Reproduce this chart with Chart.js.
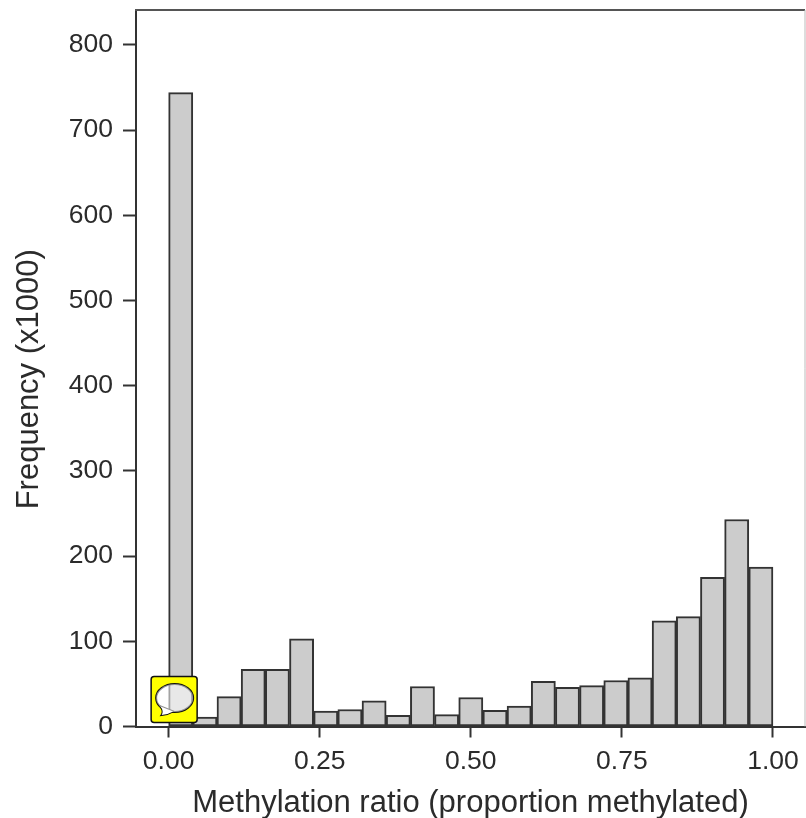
<!DOCTYPE html>
<html>
<head>
<meta charset="utf-8">
<style>
html,body{margin:0;padding:0;background:#fff;}
#wrap{position:relative;width:806px;height:818px;}
</style>
<script src="https://cdn.jsdelivr.net/npm/chart.js@4"></script>
</head>
<body>
<div id="wrap"><canvas id="c" width="806" height="818"></canvas></div>
<script>
const binCenters = [0.02,0.06,0.10,0.14,0.18,0.22,0.26,0.30,0.34,0.38,0.42,0.46,0.50,0.54,0.58,0.62,0.66,0.70,0.74,0.78,0.82,0.86,0.90,0.94,0.98];
const frequency  = [744,11,35,67,67,103,18,20,30,13,47,14,34,19,24,53,46,48,54,57,124,129,175,243,187];
const xTicks = [0,0.25,0.5,0.75,1];
const yTicks = [0,100,200,300,400,500,600,700,800];
const xLabel = 'Methylation ratio (proportion methylated)';
const yLabel = 'Frequency (x1000)';

const FONT = '"Liberation Sans", Arial, sans-serif';
const INK = '#2b2b2b';

const framePlugin = {
  id: 'frame',
  afterDatasetsDraw(chart) {
    const a = chart.chartArea, g = chart.ctx;
    g.save();
    g.lineWidth = 2;
    g.strokeStyle = '#555555';
    g.beginPath(); g.moveTo(a.left - 1, a.top); g.lineTo(a.right, a.top); g.stroke();
    g.strokeStyle = '#bbbbbb';
    g.lineWidth = 1;
    g.beginPath(); g.moveTo(a.right, a.top); g.lineTo(a.right, a.bottom); g.stroke();
    g.restore();
  }
};

const badgePlugin = {
  id: 'badge',
  afterDraw(chart) {
    const g = chart.ctx;
    const x0 = chart.scales.x.getPixelForValue(0) - 17.5;
    const y0 = chart.scales.y.getPixelForValue(0) - 50;
    g.save();
    const rect = new Path2D();
    rect.roundRect(x0, y0, 46, 46, 3);
    const el = new Path2D();
    el.ellipse(x0 + 23.5, y0 + 21.5, 18.5, 14, 0, 0, Math.PI * 2);
    const tail = new Path2D();
    tail.moveTo(x0 + 9.5, y0 + 30);
    tail.quadraticCurveTo(x0 + 13, y0 + 35, x0 + 10.5, y0 + 38.5);
    tail.quadraticCurveTo(x0 + 17, y0 + 38, x0 + 22, y0 + 35);
    tail.closePath();
    const full = new Path2D();
    full.addPath(rect);
    full.addPath(el);
    g.fillStyle = '#ffff00';
    g.fill(full, 'evenodd');
    g.strokeStyle = '#111111';
    g.lineWidth = 1.5;
    g.stroke(rect);
    g.lineWidth = 2;
    g.stroke(el);
    g.stroke(tail);
    g.fillStyle = 'rgba(255,255,255,0.55)';
    g.fill(el);
    g.fillStyle = '#ffffff';
    g.fill(tail);
    g.restore();
  }
};

function shiftTitle(scale, dy) {
  if (scale._titleShifted) return;
  scale._titleShifted = true;
  const draw = scale.drawTitle;
  scale.drawTitle = function () {
    this.ctx.save();
    this.ctx.translate(0, dy);
    draw.call(this);
    this.ctx.restore();
  };
}

new Chart(document.getElementById('c'), {
  type: 'bar',
  data: {
    datasets: [{
      data: binCenters.map((x, i) => ({ x, y: frequency[i] })),
      backgroundColor: '#cccccc',
      borderColor: '#333333',
      borderWidth: 2,
      borderSkipped: false,
      barPercentage: 1,
      categoryPercentage: 1
    }]
  },
  options: {
    responsive: false,
    animation: false,
    layout: { padding: { top: 10, right: 1, left: 0, bottom: 0 } },
    plugins: { legend: { display: false }, tooltip: { enabled: false } },
    scales: {
      x: {
        type: 'linear',
        offset: false,
        min: -0.054,
        max: 1.053,
        afterFit(s) { s.height = 91.5; s.paddingLeft = 0; s.paddingRight = 0; },
        afterBuildTicks(s) { s.ticks = xTicks.map(value => ({ value })); },
        border: { display: true, color: '#333333', width: 2 },
        grid: { display: true, offset: false, drawOnChartArea: false, drawTicks: true, tickLength: 11, tickColor: '#333333', tickWidth: 2 },
        ticks: {
          font: { family: FONT, size: 26.5 },
          color: INK,
          padding: 8,
          maxRotation: 0,
          autoSkip: false,
          callback: v => v.toFixed(2)
        },
        title: {
          display: true,
          text: xLabel,
          font: { family: FONT, size: 31 },
          color: INK,
          padding: { top: 0, bottom: -4 }
        }
      },
      y: {
        type: 'linear',
        min: 0,
        max: 841,
        afterFit(s) { s.width = 136; s.paddingTop = 0; s.paddingBottom = 0; shiftTitle(s, 11); },
        afterBuildTicks(s) { s.ticks = yTicks.map(value => ({ value })); },
        border: { display: true, color: '#333333', width: 2 },
        grid: { display: true, drawOnChartArea: false, drawTicks: true, tickLength: 13, tickColor: '#333333', tickWidth: 2 },
        ticks: {
          font: { family: FONT, size: 26.5 },
          color: INK,
          padding: 10,
          autoSkip: false
        },
        title: {
          display: true,
          text: yLabel,
          font: { family: FONT, size: 31 },
          color: INK,
          padding: { top: 11, bottom: 0 }
        }
      }
    }
  },
  plugins: [framePlugin, badgePlugin]
});
</script>
</body>
</html>
